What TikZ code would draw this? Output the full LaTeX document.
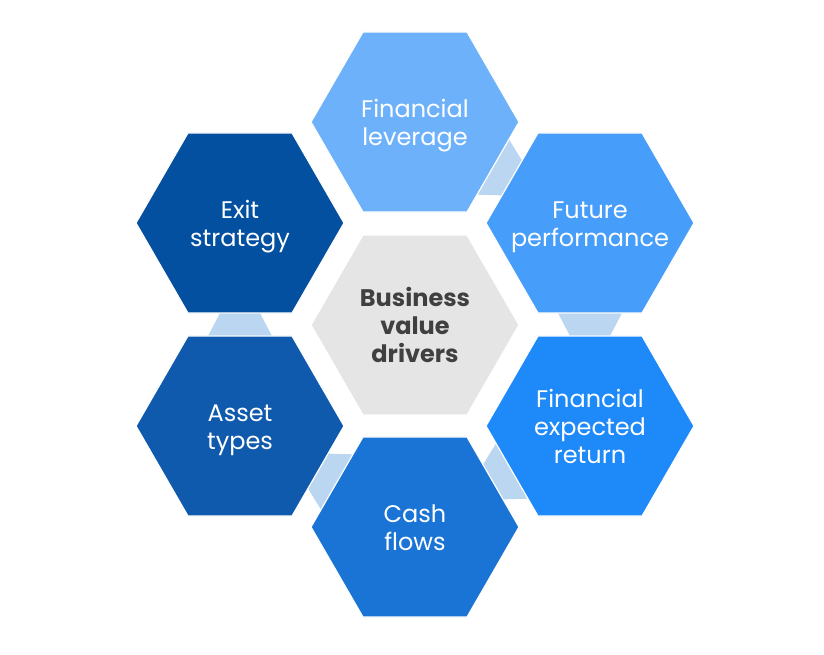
\documentclass[tikz,border=0pt]{standalone}
\usepackage{fontspec}
\setmainfont{Poppins}
\usetikzlibrary{shapes.geometric,calc,backgrounds}
\definecolor{cFL}{HTML}{6EB1FB}
\definecolor{cFP}{HTML}{469DFA}
\definecolor{cFER}{HTML}{1E89F9}
\definecolor{cCF}{HTML}{1A74D5}
\definecolor{cAT}{HTML}{0F5AAD}
\definecolor{cES}{HTML}{034FA0}
\definecolor{cCenter}{HTML}{E5E5E5}
\definecolor{textgray}{HTML}{404040}
\definecolor{linkblue}{HTML}{BBD6F1}
\newcommand\hextext[1]{\makebox[0pt]{\raisebox{-10pt}[0pt][0pt]{\begin{tabular}{@{}c@{}}#1\end{tabular}}}}
\newcommand\hexlink[2]{%
  \fill[linkc] ($(#1)!89pt!(#2)!32.5pt!90:(#2)$) -- ($(#1)!89pt!(#2)!32.5pt!-90:(#2)$)
    -- ($(#2)!89pt!(#1)!19.5pt!90:(#1)$) -- ($(#2)!89pt!(#1)!19.5pt!-90:(#1)$) -- cycle;}
\begin{document}
\begin{tikzpicture}[x=1pt,y=-1pt,
  hexa/.style={regular polygon, regular polygon sides=6, minimum size=208pt,
    inner sep=0pt, outer sep=0pt, draw=white, line width=1.2pt, text=white,
    font=\fontsize{24}{28}\selectfont},
  linkc/.style={fill=linkblue}]
\useasboundingbox (0,0) rectangle (824,654);
\node[hexa, fill=cCenter, text=textgray, font=\fontsize{24}{28}\selectfont\bfseries] (center) at (415,325) {\hextext{Business\\value\\drivers}};
\node[hexa, fill=cFL] (fl) at (415,122) {\hextext{Financial\\leverage}};
\node[hexa, fill=cFP] (fp) at (590,223) {\hextext{Future\\performance}};
\node[hexa, fill=cFER] (fer) at (590,426) {\hextext{Financial\\expected\\return}};
\node[hexa, fill=cCF] (cf) at (415,527) {\hextext{Cash\\flows}};
\node[hexa, fill=cAT] (at) at (240,426) {\hextext{Asset\\types}};
\node[hexa, fill=cES] (es) at (240,223) {\hextext{Exit\\strategy}};
\begin{pgfonlayer}{background}
\hexlink{fl}{fp}
\hexlink{fp}{fer}
\hexlink{fer}{cf}
\hexlink{cf}{at}
\hexlink{at}{es}
\end{pgfonlayer}
\end{tikzpicture}
\end{document}
